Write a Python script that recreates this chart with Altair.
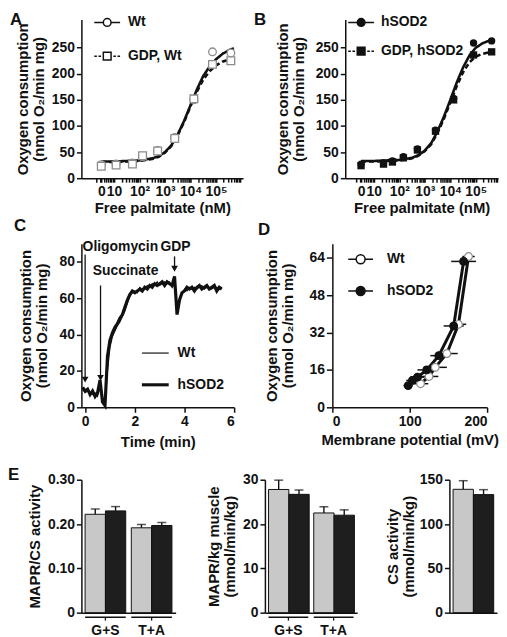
import math
import altair as alt
import pandas as pd

FONT = "Liberation Sans"
K = "#111111"
PT_GRAY = "#8c8c8c"
BAR_GRAY = "#c8c8c8"
BAR_BLACK = "#1e1e1e"

# ---------------- A / B : oxygen consumption vs free palmitate ----------------
pal_major = [0.5, 1, 2, 3, 4, 5]
pal_major_lbl = ["0", "10", "10²", "10³", "10⁴", "10⁵"]
pal_minor = [round(d + math.log10(m), 3) for d in range(0, 6) for m in range(2, 10)]

a_names = ["Wt", "GDP, Wt"]
a_pt_x = [0.5, 1.08, 1.72, 2.12, 2.71, 3.38, 4.13, 4.86, 5.58]
a_wt = [26, 27, 29, 41, 53, 78, 150, 242, 240]
a_gdp = [23, 25, 27, 43, 52, 76, 152, 218, 225]

b_names = ["hSOD2", "GDP, hSOD2"]
b_pt_x = [0.5, 1.38, 1.73, 2.16, 2.71, 3.42, 4.13, 4.91, 5.62]
b_sod = [27, 29, 33, 41, 56, 92, 153, 259, 263]
b_gdp = [24, 27, 31, 39, 54, 90, 150, 236, 242]

fit_x = [0.5, 1.0, 1.5, 2.0, 2.5, 2.75, 3.0, 3.25, 3.5, 3.75, 4.0, 4.25, 4.5, 4.75, 5.0, 5.25, 5.5, 5.7]
a_fit_wt = [32, 32, 33, 34, 38, 42, 50, 63, 84, 110, 140, 170, 196, 214, 228, 238, 245, 249]
a_fit_gdp = [31, 31, 32, 33, 37, 41, 49, 62, 83, 108, 138, 166, 189, 205, 216, 223, 227, 229]
b_fit_sod = [33, 33, 34, 35, 39, 44, 53, 67, 90, 118, 150, 183, 212, 235, 250, 258, 263, 265]
b_fit_gdp = [32, 32, 33, 34, 38, 43, 52, 65, 87, 114, 145, 176, 203, 222, 233, 238, 241, 242]

oxy_ticks = [0, 50, 100, 150, 200, 250]
oxy_title = ["Oxygen consumption", "(nmol O₂/min mg)"]

# ---------------- C : time course ----------------
c_t = [-0.1, 0.0, 0.1, 0.2, 0.3, 0.4, 0.5, 0.6, 0.7, 0.8,
       0.9, 1.0, 1.1, 1.2, 1.3, 1.4, 1.5, 1.6, 1.7, 1.8,
       1.9, 2.0, 2.1, 2.2, 2.3, 2.4, 2.5, 2.6, 2.7, 2.8,
       2.9, 3.0, 3.1, 3.2, 3.3, 3.4, 3.5, 3.6, 3.7, 3.8,
       3.9, 4.0, 4.1, 4.2, 4.3, 4.4, 4.5, 4.6, 4.7, 4.8,
       4.9, 5.0, 5.1, 5.2, 5.3, 5.4, 5.5]
c_sod = [11, 9, 10, 7, 9, 6, 8, 15, 3, 1,
         28, 37, 41, 44, 46, 49, 51, 55, 59, 62,
         64, 63, 64, 65, 64, 66, 65, 67, 66, 68,
         67, 68, 69, 67, 69, 68, 67, 72, 51, 59,
         63, 64, 66, 65, 66, 64, 66, 67, 65, 66,
         67, 65, 66, 67, 64, 66, 65]
c_wt = [10, 8, 9, 8, 7, 8, 6, 12, 5, 4,
        20, 33, 39, 42, 45, 47, 50, 53, 57, 61,
        63, 64, 63, 66, 65, 65, 67, 66, 68, 67,
        69, 67, 68, 69, 68, 69, 66, 71, 52, 60,
        62, 65, 64, 66, 65, 66, 65, 66, 67, 65,
        66, 66, 65, 66, 66, 65, 66]
c_names = ["Wt", "hSOD2"]
ev_label = ["Oligomycin", "Succinate", "GDP"]
ev_time = [0.0, 0.62, 3.6]
ev_top = [84, 67, 83]
ev_tip = [13, 14, 74]
ev_label_t = [1.42, 1.63, 3.64]
ev_label_v = [88.3, 75.0, 88.3]

# ---------------- D : membrane potential ----------------
d_names = ["Wt", "hSOD2"]
d_wt_x = [114, 125, 133, 148, 163, 176]
d_wt_y = [10.1, 13.2, 17.1, 23.0, 35.5, 64.5]
d_wt_ex = [10, 12, 15, 14, 10, 8]
d_sod_x = [98, 103.5, 110, 122, 137.6, 156.8, 169.6]
d_sod_y = [9.3, 11.5, 12.9, 16.0, 22.1, 34.8, 62.4]
d_sod_ex = [6, 8, 9, 12, 11, 13, 16]

# ---------------- E : bars ----------------
genos = ["Wt", "hSOD2"]
e_groups = ["G+S", "T+A"]
e1_wt = [0.222, 0.1915]
e1_sod = [0.2297, 0.1967]
e1_wt_err = [0.012, 0.0075]
e1_sod_err = [0.0097, 0.0068]
e2_wt = [27.8, 22.5]
e2_sod = [26.7, 22.0]
e2_wt_err = [2.1, 1.4]
e2_sod_err = [1.0, 1.2]
e3_groups = [""]
e3_wt = [139.2]
e3_sod = [133.2]
e3_wt_err = [9.7]
e3_sod_err = [5.6]

# legend symbol paths (unit = sqrt(symbolSize)/2 = 6.5 px)
P_CIRC_LINE = "M-2,0L-0.6,0M0.6,0L2,0M-0.6,0A0.6,0.6,0,1,1,0.6,0A0.6,0.6,0,1,1,-0.6,0Z"
P_SQ_DASH = ("M-2,0L-1.6,0M-1.35,0L-0.95,0M0.95,0L1.35,0M1.6,0L2,0"
             "M-0.6,-0.6L0.6,-0.6L0.6,0.6L-0.6,0.6Z")
P_CIRC_LINE_D = "M-1.92,0L-0.69,0M0.69,0L1.92,0M-0.69,0A0.69,0.69,0,1,1,0.69,0A0.69,0.69,0,1,1,-0.69,0Z"
P_THIN = "M-2.08,-0.09L2.08,-0.09L2.08,0.09L-2.08,0.09Z"
P_THICK = "M-2.08,-0.24L2.08,-0.24L2.08,0.24L-2.08,0.24Z"
SYM = 169


def label_expr(pos, txt):
    e = "''"
    for p, t in reversed(list(zip(pos, txt))):
        e = f"datum.value == {p} ? '{t}' : ({e})"
    return e


def letter(t, dy=0, dx=0, offset=0):
    return alt.TitleParams(t, anchor="start", frame="bounds", fontSize=17, font=FONT,
                           fontWeight="bold", color=K, offset=offset, dy=dy, dx=dx)


def legend(lx, ly, loff, rpad):
    return alt.Legend(title=None, orient="none", legendX=lx, legendY=ly, symbolSize=SYM,
                      labelOffset=loff, rowPadding=rpad, padding=0)


def palm_panel(let, pt_x, s1, s2, names, f1, f2, x_dom, width, height, open_pts,
               leg, ext, let_dx):
    n = len(pt_x)
    pts = pd.DataFrame({"lx": pt_x + pt_x, "v": s1 + s2, "s": [names[0]] * n + [names[1]] * n})
    m = len(fit_x)
    fit = pd.DataFrame({"lx": fit_x + fit_x, "v": f1 + f2, "s": [names[0]] * m + [names[1]] * m})
    x = alt.X("lx:Q", scale=alt.Scale(domain=x_dom, nice=False, zero=False),
              axis=alt.Axis(values=pal_major + pal_minor, labelExpr=label_expr(pal_major, pal_major_lbl),
                            title="Free palmitate (nM)", labelOverlap=False, tickSize=4, labelPadding=2,
                            titlePadding=3))
    y = alt.Y("v:Q", scale=alt.Scale(domain=[0, 304], nice=False),
              axis=alt.Axis(values=oxy_ticks, title=oxy_title, minExtent=ext, maxExtent=ext, titlePadding=2))
    curves = alt.Chart(fit).mark_line(color=K, strokeWidth=2.6).encode(
        x, y, detail="s:N",
        strokeDash=alt.StrokeDash("s:N", scale=alt.Scale(domain=names, range=[[1, 0], [5, 3]]), legend=None))
    if open_pts:
        pm = alt.Chart(pts).mark_point(filled=True, fill="white", stroke=PT_GRAY, strokeWidth=1.3, size=60, opacity=1)
        lm = alt.Chart(pts).transform_filter("false").mark_point(filled=True, fill="white", stroke=K,
                                                                 strokeWidth=2, opacity=1)
    else:
        pm = alt.Chart(pts).mark_point(filled=True, color=K, size=55, opacity=1)
        lm = alt.Chart(pts).transform_filter("false").mark_point(filled=True, fill=K, stroke=K,
                                                                 strokeWidth=2, opacity=1)
    points = pm.encode(x, y, shape=alt.Shape("s:N", scale=alt.Scale(domain=names, range=["circle", "square"]),
                                             legend=None))
    lg = lm.encode(x, y, shape=alt.Shape("s:N", scale=alt.Scale(domain=names, range=[P_CIRC_LINE, P_SQ_DASH]),
                                         legend=leg))
    return alt.layer(curves, points, lg).resolve_scale(shape="independent").properties(
        width=width, height=height, title=letter(let, dy=14, dx=let_dx))


A = palm_panel("A", a_pt_x, a_wt, a_gdp, a_names, a_fit_wt, a_fit_gdp, [-0.28, 6.06], 163, 160, True,
               legend(18.5, -4.5, 13.5, 19), 33, -6)
B = palm_panel("B", b_pt_x, b_sod, b_gdp, b_names, b_fit_sod, b_fit_gdp, [-0.12, 5.87], 154, 160, False,
               legend(8.5, -4.5, 12.5, 14), 37, -22)

# ---- C ----
n_c = len(c_t)
cdf = pd.DataFrame({"t": c_t + c_t, "v": c_sod + c_wt, "s": ["hSOD2"] * n_c + ["Wt"] * n_c})
cx = alt.X("t:Q", scale=alt.Scale(domain=[-0.15, 6], nice=False, zero=False),
           axis=alt.Axis(values=[0, 1, 2, 3, 4, 5, 6], title="Time (min)", titlePadding=6))
cy = alt.Y("v:Q", scale=alt.Scale(domain=[0, 90], nice=False),
           axis=alt.Axis(values=[0, 20, 40, 60, 80], title=oxy_title, minExtent=30, maxExtent=30, titlePadding=2))
c_sod_line = alt.Chart(cdf).transform_filter("datum.s == 'hSOD2'").mark_line(color=K, strokeWidth=3.2).encode(cx, cy)
c_wt_line = alt.Chart(cdf).transform_filter("datum.s == 'Wt'").mark_line(color=K, strokeWidth=1.2).encode(cx, cy)
c_leg = alt.Chart(cdf).transform_filter("false").mark_point(filled=True, fill=K, strokeWidth=0, opacity=1).encode(
    cx, cy, shape=alt.Shape("s:N", scale=alt.Scale(domain=c_names, range=[P_THIN, P_THICK]),
                            legend=legend(67, 102.8, 15, 17)))
ev = pd.DataFrame({"lab": ev_label, "t": ev_time, "top": ev_top, "tip": ev_tip,
                   "lt": ev_label_t, "lv": ev_label_v})
ev["head"] = [v + 2.2 for v in ev_tip]
c_rules = alt.Chart(ev).mark_rule(color=K, strokeWidth=1.3).encode(x="t:Q", y="top:Q", y2="head:Q")
c_heads = alt.Chart(ev).mark_point(shape="triangle-down", filled=True, color=K, size=45, opacity=1).encode(
    x="t:Q", y="head:Q")
c_text = alt.Chart(ev).mark_text(font=FONT, fontSize=14, fontWeight="bold", color=K).encode(
    x="lt:Q", y="lv:Q", text="lab:N")
C = alt.layer(c_sod_line, c_wt_line, c_rules, c_heads, c_text, c_leg).resolve_scale(
    shape="independent").properties(width=154, height=165, title=letter("C", dx=-5, offset=5))

# ---- D ----
ddf = pd.DataFrame({"x": d_wt_x + d_sod_x, "y": d_wt_y + d_sod_y, "ex": d_wt_ex + d_sod_ex,
                    "s": ["Wt"] * len(d_wt_x) + ["hSOD2"] * len(d_sod_x)})
ddf["lo"] = ddf["x"] - ddf["ex"]
ddf["hi"] = ddf["x"] + ddf["ex"]
dx = alt.X("x:Q", scale=alt.Scale(domain=[0, 200], nice=False),
           axis=alt.Axis(values=[0, 50, 100, 150, 200], title="Membrane potential (mV)", titlePadding=4))
dy = alt.Y("y:Q", scale=alt.Scale(domain=[0, 70], nice=False),
           axis=alt.Axis(values=[0, 8, 16, 24, 32, 40, 48, 56, 64], title=oxy_title,
                         labelExpr="datum.value % 16 == 0 ? datum.label : ''", tickSize=6,
                         minExtent=35, maxExtent=35, titlePadding=2))
d_err = alt.Chart(ddf).mark_rule(color=K, strokeWidth=1.5).encode(x="lo:Q", x2="hi:Q", y="y:Q")
d_lines = alt.Chart(ddf).mark_line(color=K, strokeWidth=3).encode(dx, dy, detail="s:N")
d_pts = alt.Chart(ddf).mark_point(filled=True, size=60, opacity=1, strokeWidth=1.2).encode(
    dx, dy,
    fill=alt.Fill("s:N", scale=alt.Scale(domain=d_names, range=["white", K]), legend=None),
    stroke=alt.Stroke("s:N", scale=alt.Scale(domain=d_names, range=[PT_GRAY, K]), legend=None))
d_leg_def = legend(21, 8.2, 19, 17)
d_leg = alt.Chart(ddf).transform_filter("false").mark_point(filled=True, stroke=K, strokeWidth=2.5,
                                                            opacity=1).encode(
    dx, dy,
    shape=alt.Shape("s:N", scale=alt.Scale(domain=d_names, range=[P_CIRC_LINE_D, P_CIRC_LINE_D]),
                    legend=d_leg_def),
    fill=alt.Fill("s:N", scale=alt.Scale(domain=d_names, range=["white", K]), legend=d_leg_def))
D = alt.layer(d_err, d_lines, d_pts, d_leg).resolve_scale(fill="independent", stroke="independent",
                                                          shape="independent").properties(
    width=156, height=165, title=letter("D", dx=-7, offset=5))


# ---- E ----
def bar_panel(groups, wt, sod, wt_e, sod_e, ydom, yvals, ytitle, width, height, lexpr, ext,
              labels=True, title=None):
    n = len(groups)
    df = pd.DataFrame({"g": groups + groups, "geno": ["Wt"] * n + ["hSOD2"] * n,
                       "v": wt + sod, "e": wt_e + sod_e})
    df["hi"] = df["v"] + df["e"]
    x = alt.X("g:N", scale=alt.Scale(domain=groups, paddingInner=0.12, paddingOuter=0.08),
              axis=alt.Axis(title=None, labelAngle=0, ticks=False, labelPadding=11, labels=labels))
    xo = alt.XOffset("geno:N", scale=alt.Scale(domain=genos, paddingInner=0, paddingOuter=0))
    y = alt.Y("v:Q", scale=alt.Scale(domain=ydom, nice=False),
              axis=alt.Axis(values=yvals, title=ytitle, labelExpr=lexpr, minExtent=ext, maxExtent=ext,
                            titlePadding=2))
    bars = alt.Chart(df).mark_bar(stroke=K, strokeWidth=1).encode(
        x, xo, y, fill=alt.Fill("geno:N", scale=alt.Scale(domain=genos, range=[BAR_GRAY, BAR_BLACK]), legend=None))
    errs = alt.Chart(df).mark_rule(color=K, strokeWidth=1.4).encode(x, xo, y="v:Q", y2="hi:Q")
    caps = alt.Chart(df).mark_tick(color=K, thickness=1.5, size=9).encode(x, xo, y="hi:Q")
    layers = [bars, errs, caps]
    if labels:
        gdf = pd.DataFrame({"g": groups})
        brace = alt.Chart(gdf).mark_bar(color=K).encode(x, y=alt.value(height + 4), y2=alt.value(height + 5.5))
        notch = alt.Chart(gdf).mark_rule(color=K, strokeWidth=1.3).encode(
            x, y=alt.value(height + 5), y2=alt.value(height + 8))
        layers += [brace, notch]
    ch = alt.layer(*layers).properties(width=width, height=height)
    if title is not None:
        ch = ch.properties(title=title)
    return ch


E1 = bar_panel(e_groups, e1_wt, e1_sod, e1_wt_err, e1_sod_err, [0, 0.3], [0, 0.05, 0.1, 0.15, 0.2, 0.25, 0.3],
               "MAPR/CS activity", 95, 134, "datum.value == 0 ? '0' : format(datum.value, '.2f')", 37,
               title=letter("E", dy=11, dx=-20))
E2 = bar_panel(e_groups, e2_wt, e2_sod, e2_wt_err, e2_sod_err, [0, 30], [0, 5, 10, 15, 20, 25, 30],
               ["MAPR/kg muscle", "(mmol/min/kg)"], 93, 134, "datum.label", 26)
E3 = bar_panel(e3_groups, e3_wt, e3_sod, e3_wt_err, e3_sod_err, [0, 150], [0, 25, 50, 75, 100, 125, 150],
               ["CS activity", "(mmol/min/kg)"], 48, 134, "datum.label", 31, labels=False)

row1 = alt.hconcat(A, B, spacing=11)
row2 = alt.hconcat(C, D, spacing=23)
row3 = alt.hconcat(E1, alt.hconcat(E2, E3, spacing=29), spacing=30)

top = alt.vconcat(row1, row2, spacing=1)
chart = alt.vconcat(top, row3, spacing=17).properties(
    padding={"left": 0, "top": 0, "right": 0, "bottom": 0}
).configure(font=FONT).configure_view(stroke=None).configure_axis(
    labelFont=FONT, titleFont=FONT, labelFontSize=14, titleFontSize=15, labelFontWeight="bold",
    titleFontWeight="bold", labelColor=K, titleColor=K, domainColor=K, tickColor=K, domainWidth=1.5,
    tickWidth=1.5, tickSize=5, grid=False, labelPadding=2, titlePadding=3, titleLineHeight=16
).configure_legend(
    labelFont=FONT, labelFontSize=14, labelFontWeight="bold", labelColor=K
)

chart.save("out.html", embed_options={"renderer": "svg", "actions": False})
